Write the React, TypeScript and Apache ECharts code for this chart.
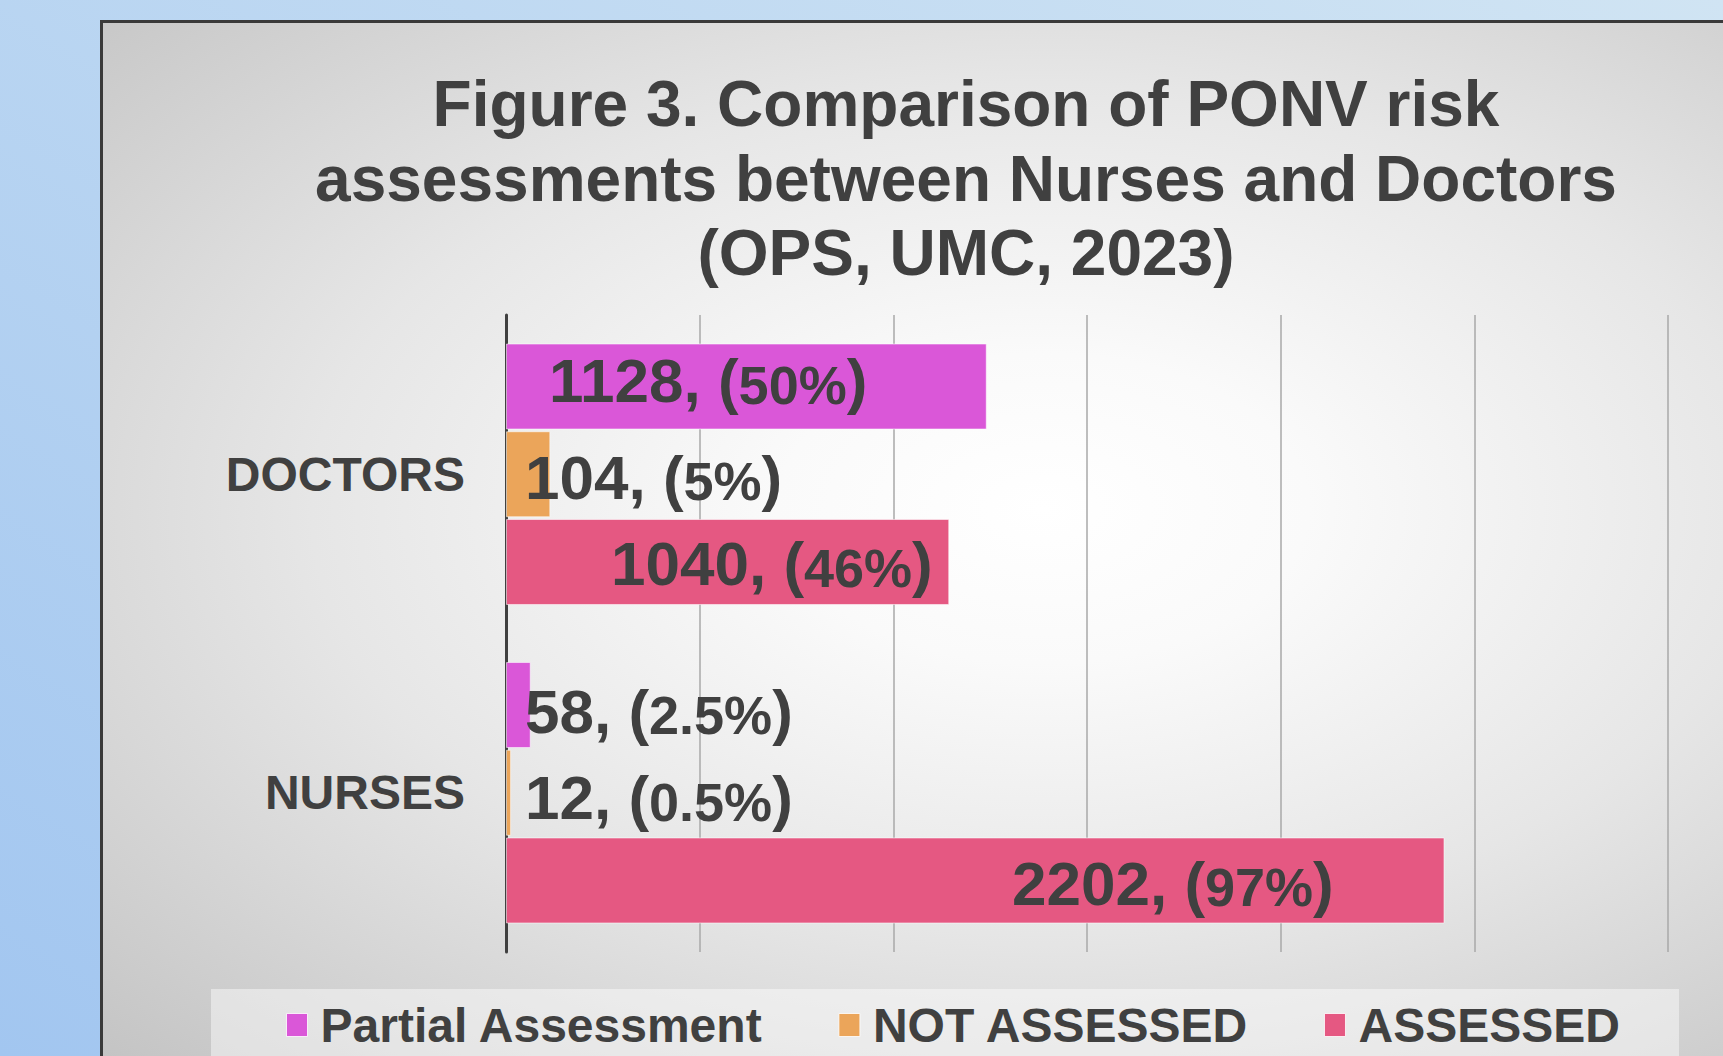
import React, { useEffect, useRef } from "react";
import * as echarts from "echarts";

const titleLines = [
  "Figure 3. Comparison of PONV risk",
  "assessments between Nurses and Doctors",
  "(OPS, UMC, 2023)",
];
const categories = ["DOCTORS", "NURSES"];
const seriesNames = ["Partial Assessment", "NOT ASSESSED", "ASSESSED"];
const partialValues = [1128, 58];
const notAssessedValues = [104, 12];
const assessedValues = [1040, 2202];
const partialPct = ["50%", "2.5%"];
const notAssessedPct = ["5%", "0.5%"];
const assessedPct = ["46%", "97%"];

const COLORS = ["#DA57D8", "#EBA55A", "#E55882"];
const TEXT = "#404040";
const FONT = "'Liberation Sans', Arial, sans-serif";
// label shifts from bar start / centre (style only)
const LABEL_SHIFT_X = [
  [43, 19],
  [19, 19],
  [105, 506],
];
const LABEL_SHIFT_Y = [
  [-6, 6],
  [3, 5],
  [2, 3],
];

export default function App() {
  const ref = useRef<HTMLDivElement>(null);
  useEffect(() => {
    if (!ref.current) return;
    const chart = echarts.init(ref.current, undefined, { renderer: "svg" });
    const total = partialValues[0] + notAssessedValues[0] + assessedValues[0];
    const valueSets = [partialValues, notAssessedValues, assessedValues];
    const pctSets = [partialPct, notAssessedPct, assessedPct];

    const series = seriesNames.map((name, s) => ({
      name,
      type: "bar",
      barWidth: 86,
      barGap: "2%",
      itemStyle: {
        color: COLORS[s],
        borderColor: "rgba(255,255,255,0.55)",
        borderWidth: 1,
      },
      data: valueSets[s].map((v, i) => ({
        value: v,
        label: { offset: [LABEL_SHIFT_X[s][i], LABEL_SHIFT_Y[s][i]] },
      })),
      label: {
        show: true,
        position: "insideLeft",
        distance: 0,
        formatter: (p: any) =>
          `{a|${valueSets[s][p.dataIndex]}, (}{b|${pctSets[s][p.dataIndex]}}{a|)}`,
        rich: {
          a: { fontSize: 62, fontWeight: "bold", color: TEXT, fontFamily: FONT, verticalAlign: "bottom" },
          b: { fontSize: 54, fontWeight: "bold", color: TEXT, fontFamily: FONT, verticalAlign: "bottom" },
        },
      },
    }));

    chart.setOption({
      animation: false,
      backgroundColor: "transparent",
      graphic: [
        {
          type: "text",
          x: 966,
          y: 67,
          style: {
            text: titleLines.join("\n"),
            fill: TEXT,
            font: `bold 64px ${FONT}`,
            textAlign: "center",
            textVerticalAlign: "top",
            lineHeight: 74.5,
          },
        },
      ],
      legend: {
        data: seriesNames,
        left: 286,
        top: 1001,
        padding: 0,
        icon: "rect",
        itemWidth: 21,
        itemHeight: 23,
        itemGap: 75,
        itemStyle: { borderColor: "rgba(255,255,255,0.8)", borderWidth: 1 },
        textStyle: {
          fontSize: 48,
          fontWeight: "bold",
          color: TEXT,
          fontFamily: FONT,
          padding: [0, 0, 0, 8],
        },
      },
      grid: { left: 506, right: 55, top: 315, bottom: 104, containLabel: false },
      xAxis: {
        type: "value",
        min: 0,
        max: total * 1.2,
        interval: total * 0.2,
        axisLabel: { show: false },
        axisLine: { show: false },
        axisTick: { show: false },
        splitLine: { show: true, lineStyle: { color: "#a8a8a8", width: 1.5 } },
      },
      yAxis: {
        type: "category",
        inverse: true,
        data: categories,
        axisTick: { show: false },
        axisLine: { show: true, lineStyle: { color: TEXT, width: 3 } },
        axisLabel: {
          fontSize: 48,
          fontWeight: "bold",
          color: TEXT,
          fontFamily: FONT,
          margin: 41,
        },
      },
      series,
    });
    return () => chart.dispose();
  }, []);

  return (
    <div
      style={{
        position: "absolute",
        left: 0,
        top: 0,
        width: 1723,
        height: 1056,
        overflow: "hidden",
        background: "linear-gradient(to bottom left, #d0e4f3, #a2c6f0)",
      }}
    >
      <div
        style={{
          position: "absolute",
          left: 100,
          top: 20,
          right: 0,
          bottom: 0,
          borderTop: "3px solid #3a3a3a",
          borderLeft: "3px solid #3a3a3a",
          background:
            "radial-gradient(ellipse farthest-corner at 58% 47%, #ffffff 0%, #fafafa 20%, #e6e6e6 55%, #c4c4c4 100%)",
        }}
      />
      <div
        style={{
          position: "absolute",
          left: 211,
          top: 989,
          width: 1468,
          height: 67,
          background: "rgba(255,255,255,0.45)",
        }}
      />
      <div
        ref={ref}
        style={{ position: "absolute", left: 0, top: 0, width: 1723, height: 1056 }}
      />
    </div>
  );
}
